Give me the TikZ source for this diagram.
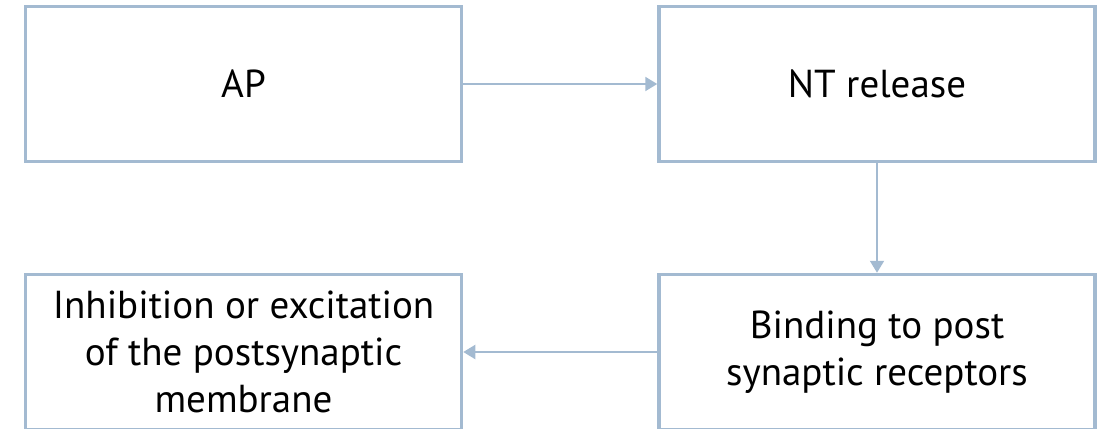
\documentclass[tikz,border=0pt]{standalone}
\usepackage{fontspec}
\setmainfont{PT Sans}
\usepackage{tikz}
\usetikzlibrary{arrows.meta}

\definecolor{boxblue}{RGB}{163,186,209}

\tikzset{
  stage/.style = {draw = boxblue, line width = 3.5pt, minimum width = 436pt,
    minimum height = 155pt, align = center, font = \fontsize{39}{47}\selectfont},
  flow/.style = {draw = boxblue, line width = 2pt,
    -{Triangle[width = 14pt, length = 12pt]}}
}

\begin{document}
\begin{tikzpicture}[x = 1pt, y = -1pt]
  \useasboundingbox (0,0) rectangle (1099,428);

  \node[stage] (AP) at (243.5,84) {AP};
  \node[stage] (NT) at (877,84) {NT release};
  \node[stage] (bind) at (877,352) {Binding to post\\synaptic receptors};
  \node[stage] (post) at (243.5,352) {Inhibition or excitation\\of the postsynaptic\\membrane};

  \draw[flow] (AP) -- (NT);
  \draw[flow] (NT) -- (bind);
  \draw[flow] (bind) -- (post);
\end{tikzpicture}
\end{document}
